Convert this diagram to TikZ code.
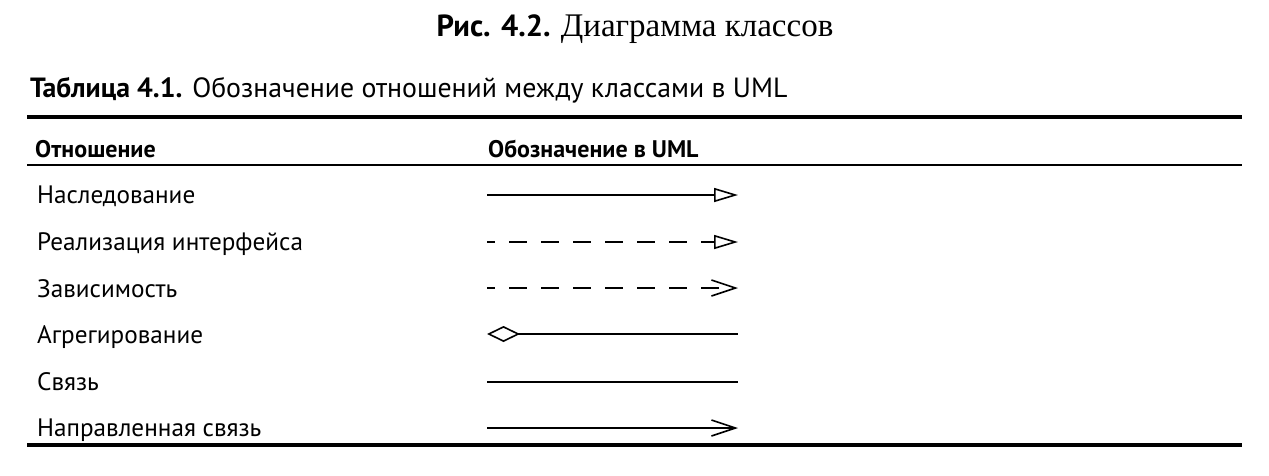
\documentclass[tikz,border=0pt]{standalone}
\usepackage{fontspec}
\setmainfont{PT Sans}
\newfontfamily\titleserif{Liberation Serif}
\usetikzlibrary{arrows.meta}

\begin{document}
\begin{tikzpicture}[x=1pt, y=-1pt,
  rowtext/.style={anchor=base west, inner sep=0pt, font=\fontsize{25.2}{30}\selectfont},
  headtext/.style={anchor=base west, inner sep=0pt, font=\fontsize{24}{28}\selectfont\bfseries},
  umlline/.style={line width=1.6pt},
  umldash/.style={line width=1.8pt, dash pattern=on 18pt off 14pt, dash phase=10pt},
  rulethick/.style={line width=3.6pt},
  rulethin/.style={line width=2pt}]
\useasboundingbox (0,0) rectangle (1269,475);

% titles
\node[anchor=base, inner sep=0pt] (fig) at (635,36)
  {\fontsize{30.5}{34}\selectfont\bfseries Рис. 4.2. \titleserif\mdseries\fontsize{33}{36}\selectfont Диаграмма классов};
\node[anchor=base west, inner sep=0pt] (cap) at (30,97)
  {\fontsize{27.8}{32}\selectfont\textbf{Таблица 4.1.} Обозначение отношений между классами в UML};

% rules
\draw[rulethick] (27,117) -- (1242,117);
\draw[rulethin] (27,165) -- (1242,165);
\draw[rulethick] (27,445) -- (1242,445);

% header
\node[headtext] (hrel) at (35,157) {Отношение};
\node[headtext] (huml) at (488,157) {Обозначение в UML};

% rows
\node[rowtext] (inh) at (37,203) {Наследование};
\node[rowtext] (real) at (37,250) {Реализация интерфейса};
\node[rowtext] (dep) at (37,297) {Зависимость};
\node[rowtext] (agg) at (37,343) {Агрегирование};
\node[rowtext] (assoc) at (37,390) {Связь};
\node[rowtext] (dir) at (37,436) {Направленная связь};

% symbols
\coordinate (inhA) at (487,195);   \coordinate (inhB) at (738,195);
\coordinate (realA) at (487,242);  \coordinate (realB) at (738,242);
\coordinate (depA) at (487,288);   \coordinate (depB) at (738,288);
\coordinate (aggA) at (487,334);   \coordinate (aggB) at (738,334);
\coordinate (assocA) at (487,382); \coordinate (assocB) at (738,382);
\coordinate (dirA) at (487,428);   \coordinate (dirB) at (738,428);

\draw[umlline, -{Triangle[open, length=24pt, width=14pt, line width=1.6pt]}] (inhA) -- (inhB);
\draw[umldash, -{Triangle[open, length=24pt, width=14pt, line width=1.6pt]}] (realA) -- (realB);
\draw[umldash, -{Straight Barb[length=24pt, width=16pt, line width=1.6pt]}] (depA) -- (depB);
\draw[umlline, {Diamond[open, length=33pt, width=16pt, line width=1.6pt]}-] (aggA) -- (aggB);
\draw[umlline] (assocA) -- (assocB);
\draw[umlline, -{Straight Barb[length=24pt, width=16pt, line width=1.6pt]}] (dirA) -- (dirB);
\end{tikzpicture}
\end{document}
